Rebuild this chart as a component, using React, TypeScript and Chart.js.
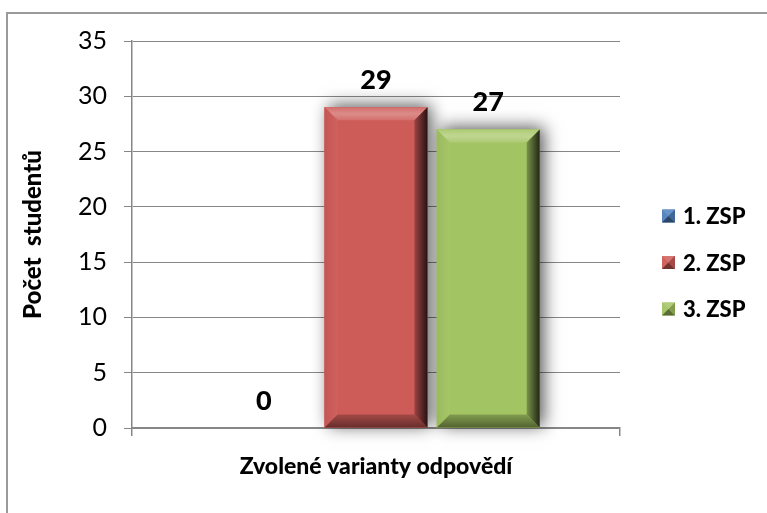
import React, { useEffect, useRef } from 'react';
import { Chart, registerables } from 'chart.js';

Chart.register(...registerables);

// ---- data ----
const categories: string[] = [''];
const seriesLabels: string[] = ['1. ZSP', '2. ZSP', '3. ZSP'];
const series1: number[] = [0];
const series2: number[] = [29];
const series3: number[] = [27];
const seriesColors: string[] = ['#4F81BD', '#CD5B58', '#A3C462'];
const yMin = 0;
const yMax = 35;
const yStep = 5;
const xTitle = 'Zvolené varianty odpovědí';
const yTitle = 'Počet  studentů';

const FONT = 'Lato, sans-serif';
const BOLD = '900';
const GRID = '#878787';

function shade(hex: string, amt: number): string {
  const n = parseInt(hex.slice(1), 16);
  let r = (n >> 16) & 255, g = (n >> 8) & 255, b = n & 255;
  const f = (c: number) => amt >= 0 ? Math.round(c + (255 - c) * amt) : Math.round(c * (1 + amt));
  r = f(r); g = f(g); b = f(b);
  return `rgb(${r},${g},${b})`;
}

function barBox(el: any) {
  const p = el.getProps(['x', 'y', 'base', 'width'], true);
  const left = p.x - p.width / 2;
  const right = p.x + p.width / 2;
  const top = Math.min(p.y, p.base);
  const bottom = Math.max(p.y, p.base);
  return { left, right, top, bottom, x: p.x, y: p.y, w: p.width, h: bottom - top };
}

const bevelPlugin = {
  id: 'bevel',
  beforeDatasetsDraw(chart: any) {
    const ctx = chart.ctx;
    chart.data.datasets.forEach((ds: any, i: number) => {
      const meta = chart.getDatasetMeta(i);
      meta.data.forEach((el: any) => {
        const b = barBox(el);
        if (b.h < 2) return;
        ctx.save();
        ctx.shadowColor = 'rgba(0,0,0,0.65)';
        ctx.shadowBlur = 16;
        ctx.shadowOffsetX = 4;
        ctx.shadowOffsetY = -2;
        ctx.fillStyle = ds.backgroundColor;
        ctx.fillRect(b.left, b.top, b.w, b.h);
        ctx.restore();
      });
    });
  },
  afterDatasetsDraw(chart: any) {
    const ctx = chart.ctx;
    chart.data.datasets.forEach((ds: any, i: number) => {
      const meta = chart.getDatasetMeta(i);
      const c = ds.backgroundColor as string;
      meta.data.forEach((el: any) => {
        const b = barBox(el);
        if (b.h < 2) return;
        const e = Math.min(13, b.h / 2, b.w / 2);
        const { left: L, right: R, top: T, bottom: B } = b;
        ctx.save();
        // top
        ctx.beginPath();
        ctx.moveTo(L, T); ctx.lineTo(R, T); ctx.lineTo(R - e, T + e); ctx.lineTo(L + e, T + e); ctx.closePath();
        const gt = ctx.createLinearGradient(0, T, 0, T + e);
        gt.addColorStop(0, shade(c, 0.12));
        gt.addColorStop(0.5, shade(c, 0.3));
        gt.addColorStop(1, shade(c, 0.12));
        ctx.fillStyle = gt; ctx.fill();
        // left
        ctx.beginPath();
        ctx.moveTo(L, T); ctx.lineTo(L + e, T + e); ctx.lineTo(L + e, B - e); ctx.lineTo(L, B); ctx.closePath();
        const gl = ctx.createLinearGradient(L, 0, L + e, 0);
        gl.addColorStop(0, shade(c, -0.05));
        gl.addColorStop(1, shade(c, 0.04));
        ctx.fillStyle = gl; ctx.fill();
        // bottom
        ctx.beginPath();
        ctx.moveTo(L, B); ctx.lineTo(L + e, B - e); ctx.lineTo(R - e, B - e); ctx.lineTo(R, B); ctx.closePath();
        const gb = ctx.createLinearGradient(0, B - e, 0, B);
        gb.addColorStop(0, shade(c, -0.2));
        gb.addColorStop(1, shade(c, -0.5));
        ctx.fillStyle = gb; ctx.fill();
        // right
        ctx.beginPath();
        ctx.moveTo(R, T); ctx.lineTo(R - e, T + e); ctx.lineTo(R - e, B - e); ctx.lineTo(R, B); ctx.closePath();
        const gr = ctx.createLinearGradient(R - e, 0, R, 0);
        gr.addColorStop(0, shade(c, -0.25));
        gr.addColorStop(1, shade(c, -0.8));
        ctx.fillStyle = gr; ctx.fill();
        ctx.restore();
      });
    });
  },
};

const valueLabelPlugin = {
  id: 'valueLabels',
  afterDatasetsDraw(chart: any) {
    const ctx = chart.ctx;
    ctx.save();
    ctx.font = `${BOLD} 27px ${FONT}`;
    ctx.fillStyle = '#000';
    ctx.textAlign = 'center';
    ctx.textBaseline = 'middle';
    chart.data.datasets.forEach((ds: any, i: number) => {
      const meta = chart.getDatasetMeta(i);
      meta.data.forEach((el: any, j: number) => {
        const b = barBox(el);
        ctx.fillText(String(ds.data[j]), b.x, b.top - 27);
      });
    });
    ctx.restore();
  },
};

const legendPlugin = {
  id: 'sideLegend',
  afterDraw(chart: any) {
    const ctx = chart.ctx;
    const n = chart.data.datasets.length;
    const rowGap = 46.5;
    const cy = chart.height / 2 + 6;
    const x0 = chart.chartArea.right + 42;
    const s = 13;
    ctx.save();
    ctx.font = `${BOLD} 22px ${FONT}`;
    ctx.textAlign = 'left';
    ctx.textBaseline = 'middle';
    chart.data.datasets.forEach((ds: any, i: number) => {
      const y = cy + (i - (n - 1) / 2) * rowGap;
      const c = ds.backgroundColor as string;
      const t = y - s / 2;
      ctx.fillStyle = shade(c, 0.05);
      ctx.fillRect(x0, t, s, s);
      // pyramid bevel
      ctx.beginPath();
      ctx.moveTo(x0, t + s); ctx.lineTo(x0 + s, t + s); ctx.lineTo(x0 + s / 2, t + s / 2); ctx.closePath();
      ctx.fillStyle = shade(c, -0.45); ctx.fill();
      ctx.beginPath();
      ctx.moveTo(x0, t); ctx.lineTo(x0 + s, t); ctx.lineTo(x0 + s / 2, t + s / 2); ctx.closePath();
      ctx.fillStyle = shade(c, 0.15); ctx.fill();
      ctx.beginPath();
      ctx.moveTo(x0 + s, t); ctx.lineTo(x0 + s, t + s); ctx.lineTo(x0 + s / 2, t + s / 2); ctx.closePath();
      ctx.fillStyle = shade(c, -0.2); ctx.fill();
      ctx.fillStyle = '#000';
      ctx.fillText(ds.label, x0 + 21, y + 1);
    });
    ctx.restore();
  },
};

export default function App() {
  const ref = useRef<HTMLCanvasElement | null>(null);

  useEffect(() => {
    if (!ref.current) return;
    const values = [series1, series2, series3];
    const chart = new Chart(ref.current, {
      type: 'bar',
      data: {
        labels: categories,
        datasets: seriesLabels.map((label, i) => ({
          label,
          data: values[i],
          backgroundColor: seriesColors[i],
          borderWidth: 0,
          categoryPercentage: 0.69,
          barPercentage: 0.917,
        })),
      },
      options: {
        animation: false,
        responsive: false,
        devicePixelRatio: 1,
        layout: { padding: { left: 10, top: 41, right: 147, bottom: 0 } },
        plugins: {
          legend: { display: false },
          tooltip: { enabled: false },
        },
        scales: {
          x: {
            offset: true,
            grid: {
              display: true,
              offset: true,
              drawOnChartArea: false,
              drawTicks: true,
              tickLength: 8,
              color: GRID,
              lineWidth: 1.5,
            },
            border: { display: true, color: GRID, width: 1.5 },
            ticks: { display: true, font: { family: FONT, size: 10 } },
            title: {
              display: true,
              text: xTitle,
              color: '#000',
              font: { family: FONT, size: 23, weight: BOLD },
              padding: { top: 0, bottom: 33 },
            },
            afterFit(scale: any) { scale.height = 85; },
          },
          y: {
            min: yMin,
            max: yMax,
            ticks: {
              stepSize: yStep,
              color: '#000',
              padding: 17,
              font: { family: FONT, size: 25 },
            },
            grid: {
              color: GRID,
              lineWidth: 1,
              drawTicks: true,
              tickLength: 8,
            },
            border: { display: true, color: GRID, width: 1.5 },
            title: {
              display: true,
              text: yTitle,
              color: '#000',
              font: { family: FONT, size: 24, weight: BOLD },
              padding: { top: 9, bottom: 0 },
            },
            afterFit(scale: any) { scale.width = 122; },
          },
        },
      },
      plugins: [bevelPlugin, valueLabelPlugin, legendPlugin],
    });
    return () => chart.destroy();
  }, []);

  return (
    <div style={{ position: 'fixed', left: 0, top: 0, width: 767, height: 513, overflow: 'hidden', background: '#fff' }}>
      <div
        style={{
          position: 'absolute', left: 6, top: 12, width: 800, height: 600,
          borderTop: '2px solid #9a9a9a', borderLeft: '2px solid #9a9a9a',
        }}
      />
      <canvas ref={ref} width={767} height={513} style={{ position: 'absolute', left: 0, top: 0 }} />
    </div>
  );
}
